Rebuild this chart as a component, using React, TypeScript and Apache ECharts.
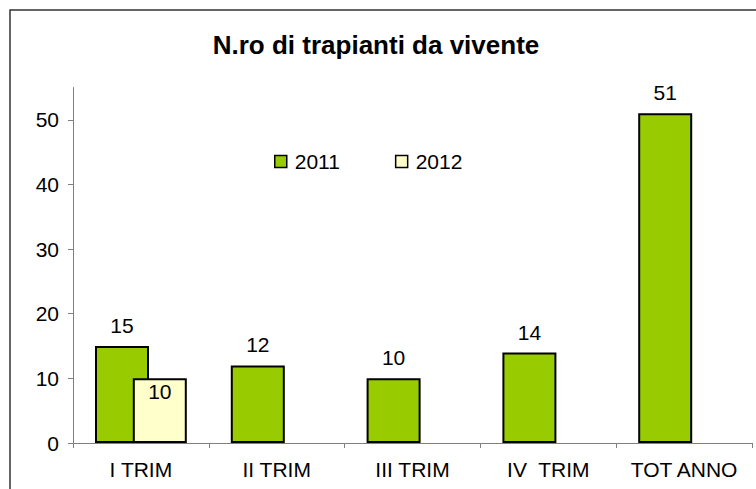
import React, { useEffect, useRef } from "react";
import * as echarts from "echarts";

const categories = ["I TRIM", "II TRIM", "III TRIM", "IV  TRIM", "TOT ANNO"];
const series2011 = [15, 12, 10, 14, 51];
const series2012: (number | null)[] = [10, null, null, null, null];
const yTicks = [0, 10, 20, 30, 40, 50];
const titleText = "N.ro di trapianti da vivente";

const FONT = "Arial, 'Liberation Sans', sans-serif";

export default function App() {
  const ref = useRef<HTMLDivElement>(null);
  useEffect(() => {
    document.body.style.margin = "0";
    const chart = echarts.init(ref.current!, null, { renderer: "svg" });
    chart.setOption({
      animation: false,
      backgroundColor: "#ffffff",
      textStyle: { fontFamily: FONT },
      title: {
        text: titleText,
        left: 371,
        top: 27,
        textAlign: "center",
        textStyle: { fontFamily: FONT, fontSize: 26, fontWeight: "bold", color: "#000" },
      },
      legend: {
        left: 269,
        top: 146,
        itemWidth: 12,
        itemHeight: 12,
        itemGap: 55,
        icon: "rect",
        textStyle: { fontFamily: FONT, fontSize: 21, color: "#000", padding: [0, 0, 0, 3] },
        data: [
          { name: "2011", itemStyle: { color: "#99CC00", borderColor: "#000", borderWidth: 1.5 } },
          { name: "2012", itemStyle: { color: "#FFFFCC", borderColor: "#000", borderWidth: 1.5 } },
        ],
      },
      graphic: [
        {
          type: "rect",
          shape: { x: 10, y: 10, width: 760, height: 500 },
          style: { fill: "none", stroke: "#333", lineWidth: 1.5 },
          silent: true,
        },
      ],
      grid: { left: 73, right: 4, top: 87.5, bottom: 46, containLabel: false },
      xAxis: {
        type: "category",
        data: categories,
        axisLine: { lineStyle: { color: "#808080", width: 1 } },
        axisTick: { show: true, alignWithLabel: false, length: 5, lineStyle: { color: "#808080" } },
        axisLabel: { fontFamily: FONT, fontSize: 21, color: "#000", margin: 16, interval: 0 },
      },
      yAxis: {
        type: "value",
        min: 0,
        max: 55,
        splitLine: { show: false },
        axisLine: { show: true, lineStyle: { color: "#808080", width: 1 } },
        axisTick: { show: true, length: 5, lineStyle: { color: "#808080" }, customValues: yTicks },
        axisLabel: { fontFamily: FONT, fontSize: 21, color: "#000", margin: 14, customValues: yTicks },
      },
      series: [
        {
          name: "2011",
          type: "bar",
          data: series2011,
          barWidth: 54,
          barGap: "-30%",
          itemStyle: { color: "#99CC00", borderColor: "#000", borderWidth: 2 },
          label: {
            show: true,
            position: "top",
            distance: 10,
            fontFamily: FONT,
            fontSize: 21,
            color: "#000",
          },
        },
        {
          name: "2012",
          type: "bar",
          data: series2012,
          barWidth: 54,
          z: 3,
          itemStyle: { color: "#FFFFCC", borderColor: "#000", borderWidth: 2 },
          label: {
            show: true,
            position: "insideTop",
            distance: 3,
            fontFamily: FONT,
            fontSize: 21,
            color: "#000",
          },
        },
      ],
    });
    return () => chart.dispose();
  }, []);
  return <div ref={ref} style={{ width: 756, height: 489 }} />;
}
